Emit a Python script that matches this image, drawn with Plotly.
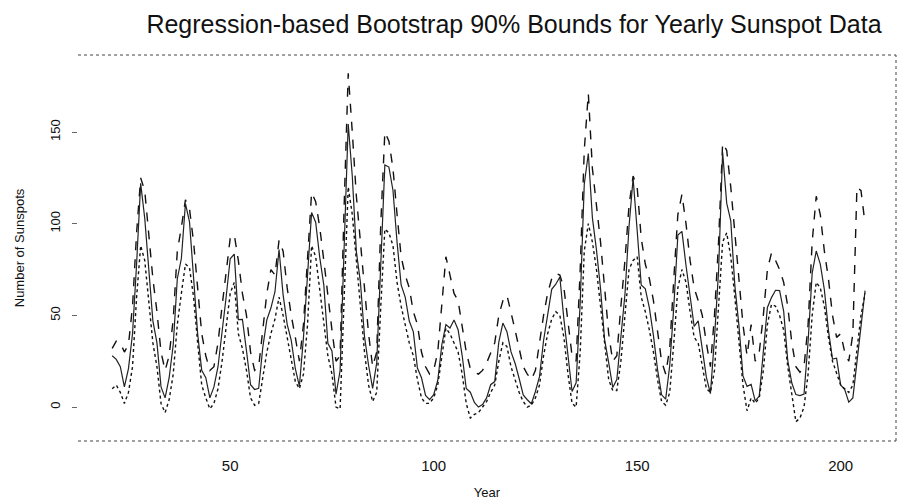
import plotly.graph_objects as go

# Year index (1 = 1700)
years = list(range(21, 207))

# Observed yearly sunspot numbers
actual = [28, 26, 22, 11, 21, 40, 78, 122, 103, 73, 47, 35, 11, 5, 16, 34, 70, 81, 111, 101,
          73, 40, 20, 16, 5, 11, 22, 40, 60, 80.9, 83.4, 47.7, 47.8, 30.7, 12.2, 9.6, 10.2, 32.4, 47.6, 54,
          62.9, 85.9, 61.2, 45.1, 36.4, 20.9, 11.4, 37.8, 69.8, 106.1, 100.8, 81.6, 66.5, 34.8, 30.6, 7, 19.8, 92.5, 154.4, 125.9,
          84.8, 68.1, 38.5, 22.8, 10.2, 24.1, 82.9, 132, 130.9, 118.1, 89.9, 66.6, 60, 46.9, 41, 21.3, 16, 6.4, 4.1, 6.8,
          14.5, 34, 45, 43.1, 47.5, 42.2, 28.1, 10.1, 8.1, 2.5, 0, 1.4, 5, 12.2, 13.9, 35.4, 45.8, 41.1, 30.1, 23.9,
          15.6, 6.6, 4, 1.8, 8.5, 16.6, 36.3, 49.6, 64.2, 67, 70.9, 47.8, 27.5, 8.5, 13.2, 56.9, 121.5, 138.3, 103.2, 85.7,
          64.6, 36.7, 24.2, 10.7, 15, 40.1, 61.5, 98.5, 124.7, 96.3, 66.6, 64.5, 54.1, 39, 20.6, 6.7, 4.3, 22.7, 54.8, 93.8,
          95.8, 77.2, 59.1, 44, 47, 30.5, 16.3, 7.3, 37.6, 74, 139, 111.2, 101.6, 66.2, 44.7, 17, 11.3, 12.4, 3.4, 6,
          32.3, 54.3, 59.7, 63.7, 63.5, 52.2, 25.4, 13.1, 6.8, 6.3, 7.1, 35.6, 73, 85.1, 78, 64, 41.8, 26.2, 26.7, 12.1,
          9.5, 2.7, 5, 24.4, 42, 63.5]

# Upper 90% bootstrap bound
upper = [32, 36, 35, 30, 34, 55, 95, 125, 118, 92, 70, 52, 30, 20, 28, 48, 85, 98, 113, 108,
         90, 65, 40, 28, 20, 22, 35, 55, 75, 92, 94, 80, 62, 50, 30, 20, 22, 42, 62, 75,
         72, 91, 85, 65, 50, 38, 25, 45, 80, 117, 112, 98, 80, 60, 42, 25, 28, 110, 182, 150,
         115, 90, 65, 40, 22, 30, 100, 150, 145, 130, 105, 82, 72, 65, 52, 45, 30, 22, 18, 20,
         30, 55, 82, 72, 62, 58, 45, 30, 21, 19, 18, 20, 24, 30, 35, 50, 58, 61, 52, 42,
         32, 22, 18, 15, 20, 35, 50, 62, 70, 73, 72, 65, 45, 28, 25, 75, 140, 171, 130, 110,
         90, 65, 40, 25, 28, 55, 80, 110, 126, 120, 92, 78, 70, 58, 42, 25, 18, 32, 70, 105,
         116, 100, 80, 65, 58, 50, 35, 22, 50, 90, 144, 140, 120, 95, 70, 45, 28, 45, 25, 30,
         50, 75, 84, 80, 75, 68, 55, 35, 22, 19, 22, 45, 90, 115, 105, 85, 70, 50, 38, 40,
         30, 25, 40, 120, 118, 100]

# Lower 90% bootstrap bound
lower = [10, 12, 8, 2, 8, 22, 60, 88, 80, 58, 35, 22, 2, -3, 4, 18, 45, 62, 78, 76,
         60, 35, 12, 5, -1, 2, 10, 25, 42, 62, 68, 40, 32, 20, 5, 1, 2, 15, 30, 40,
         48, 60, 50, 38, 25, 14, 10, 18, 45, 88, 82, 65, 48, 28, 18, 0, -1, 60, 120, 105,
         78, 55, 30, 12, 3, 8, 55, 97, 95, 88, 68, 55, 45, 35, 28, 15, 5, 2, 2, 5,
         12, 28, 43, 40, 35, 30, 18, 2, -6, -4, -3, 0, 3, 8, 12, 25, 35, 33, 22, 15,
         8, 3, 0, 1, 5, 12, 28, 40, 48, 52, 50, 38, 18, 2, 0, 30, 85, 100, 90, 75,
         55, 32, 15, 9, 9, 25, 50, 75, 80, 82, 60, 52, 42, 30, 15, 3, 1, 8, 35, 65,
         75, 68, 52, 38, 35, 22, 10, 8, 20, 55, 90, 95, 82, 60, 38, 12, -2, 5, 2, 5,
         20, 45, 56, 55, 50, 42, 22, 8, -8, -6, 0, 18, 50, 68, 65, 55, 38, 25, 18, 12,
         10, 8, 12, 30, 50, 62]

x_ticks = [50, 100, 150, 200]
y_ticks = [0, 50, 100, 150]

fig = go.Figure()
fig.add_trace(go.Scatter(x=years, y=upper, mode="lines", name="upper",
                         line=dict(color="#111111", width=1.4, dash="dash")))
fig.add_trace(go.Scatter(x=years, y=actual, mode="lines", name="actual",
                         line=dict(color="#222222", width=1.2)))
fig.add_trace(go.Scatter(x=years, y=lower, mode="lines", name="lower",
                         line=dict(color="#111111", width=1.4, dash="dot")))

border = dict(color="#444444", width=1, dash="dot")
fig.add_shape(type="line", xref="paper", yref="paper", x0=0, x1=1, y0=1, y1=1, line=border)
fig.add_shape(type="line", xref="paper", yref="paper", x0=1, x1=1, y0=0, y1=1, line=border)
fig.add_shape(type="line", xref="paper", yref="paper", x0=0, x1=1, y0=0, y1=0, line=border)

# The page body adds an 8px offset, so the figure is sized to fill the rest of the window
fig.update_layout(
    width=915, height=492,
    margin=dict(l=70, r=27, t=47, b=59, autoexpand=False),
    paper_bgcolor="white", plot_bgcolor="white",
    showlegend=False,
    title=dict(text="Regression-based Bootstrap 90% Bounds for Yearly Sunspot Data",
               x=0.553, xanchor="center", y=0.967, yanchor="middle",
               font=dict(family="Liberation Sans, Arial, sans-serif", size=25, color="#111111")),
    xaxis=dict(range=[12.6, 213.6], tickvals=x_ticks, ticktext=[str(v) for v in x_ticks],
               automargin=False,
               showgrid=False, zeroline=False, showline=False, ticks="",
               tickfont=dict(family="Liberation Sans, Arial, sans-serif", size=15, color="#111111"),
               ticklabelstandoff=14,
               title=dict(text="Year", standoff=16,
                          font=dict(family="Liberation Sans, Arial, sans-serif", size=13, color="#111111"))),
    yaxis=dict(range=[-18.5, 192], tickvals=y_ticks, ticktext=[str(v) for v in y_ticks],
               automargin=False,
               showgrid=False, zeroline=False, showline=False,
               ticks="outside", ticklen=5, tickwidth=1, tickcolor="#666666",
               tickangle=-90, ticklabelstandoff=7,
               tickfont=dict(family="Liberation Sans Narrow, Arial Narrow, sans-serif", size=13, color="#111111"),
               title=dict(text="Number of Sunspots", standoff=20,
                          font=dict(family="Liberation Sans Narrow, Arial Narrow, sans-serif", size=13, color="#111111"))),
)

fig.write_html("out.html")
